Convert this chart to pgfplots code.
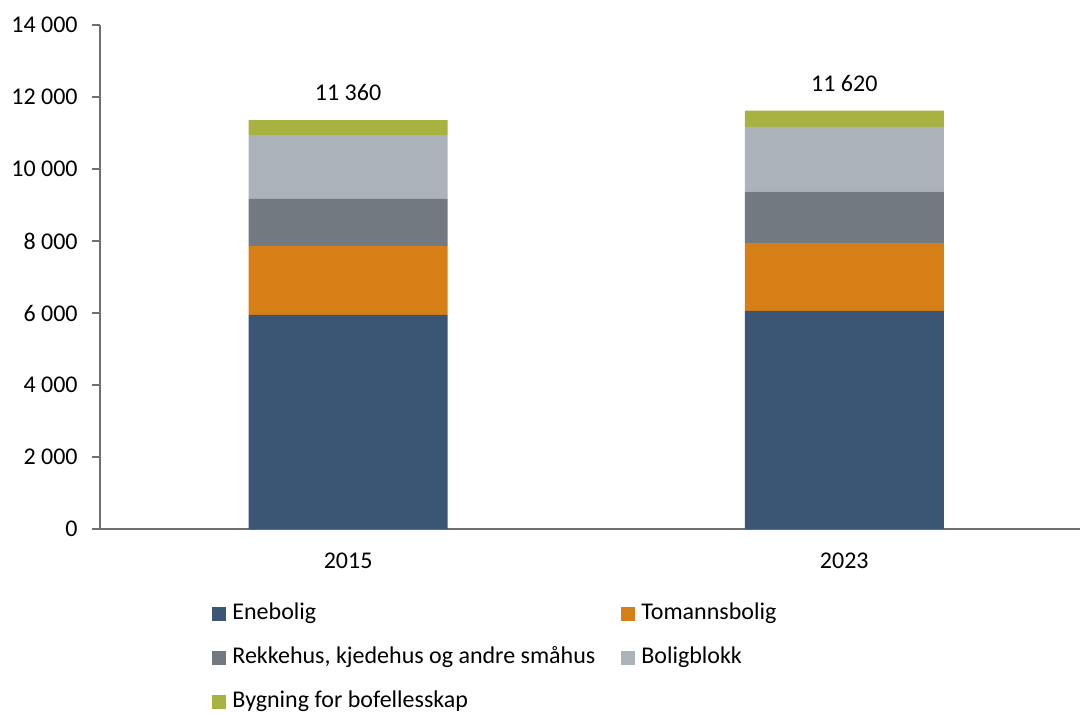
\documentclass[border=0pt]{standalone}
\usepackage{fontspec}
\setmainfont{Carlito}
\usepackage{pgfplots}
\pgfplotsset{compat=1.18}

\definecolor{enebolig}{HTML}{3A5674}
\definecolor{tomanns}{HTML}{D77F17}
\definecolor{rekkehus}{HTML}{727981}
\definecolor{blokk}{HTML}{ACB2B9}
\definecolor{bofell}{HTML}{A7B240}
\definecolor{axisgray}{HTML}{6F6F6F}

\begin{document}
\fontsize{12pt}{14.5pt}\selectfont
\begin{tikzpicture}
% 1 px of the reference = 0.5 pt; origin at the axis' lower left corner
\useasboundingbox (-50pt,-92pt) rectangle (490pt,264.5pt);
\begin{axis}[
    at={(0pt,0pt)}, anchor=south west,
    scale only axis,
    width=490pt, height=252pt,
    ybar stacked,
    bar width=99.5pt,
    xmin=-0.5, xmax=1.475,
    ymin=0, ymax=14000,
    xtick={0,1},
    xticklabels={2015,2023},
    ytick={0,2000,...,14000},
    scaled y ticks=false,
    /pgf/number format/assume math mode=true,
    /pgf/number format/1000 sep={\ },
    axis x line*=bottom,
    axis y line*=left,
    axis line style={axisgray, line width=0.9pt},
    x tick style={draw=none},
    y tick style={axisgray, line width=0.9pt},
    tick align=outside,
    major tick length=4pt,
    xticklabel style={yshift=-4pt},
    yticklabel style={xshift=-3pt},
    legend image code/.code={\fill[#1] (0pt,-3.5pt) rectangle (7pt,3.5pt);},
    legend columns=2,
    legend cell align=left,
    legend style={
        at={(0.1143,-0.1478)}, anchor=north west,
        draw=none, fill=none, inner sep=0pt,
        row sep=11.5pt,
        nodes={inner sep=0pt, text height=8pt, text depth=2.5pt},
        /tikz/every odd column/.style={column sep=3pt},
        /tikz/every even column/.style={column sep=13pt},
    },
]
\addplot[fill=enebolig, draw=none] coordinates {(0,5950) (1,6060)};
\addlegendentry{Enebolig}
\addplot[fill=tomanns, draw=none] coordinates {(0,1910) (1,1880)};
\addlegendentry{Tomannsbolig}
\addplot[fill=rekkehus, draw=none] coordinates {(0,1310) (1,1430)};
\addlegendentry{Rekkehus, kjedehus og andre småhus}
\addplot[fill=blokk, draw=none] coordinates {(0,1770) (1,1800)};
\addlegendentry{Boligblokk}
\addplot[fill=bofell, draw=none,
    point meta=explicit symbolic,
    nodes near coords,
    nodes near coords style={text=black, anchor=center, yshift=17.5pt}]
    coordinates {(0,420) [11 360] (1,450) [11 620]};
\addlegendentry{Bygning for bofellesskap}
\end{axis}
\end{tikzpicture}
\end{document}
